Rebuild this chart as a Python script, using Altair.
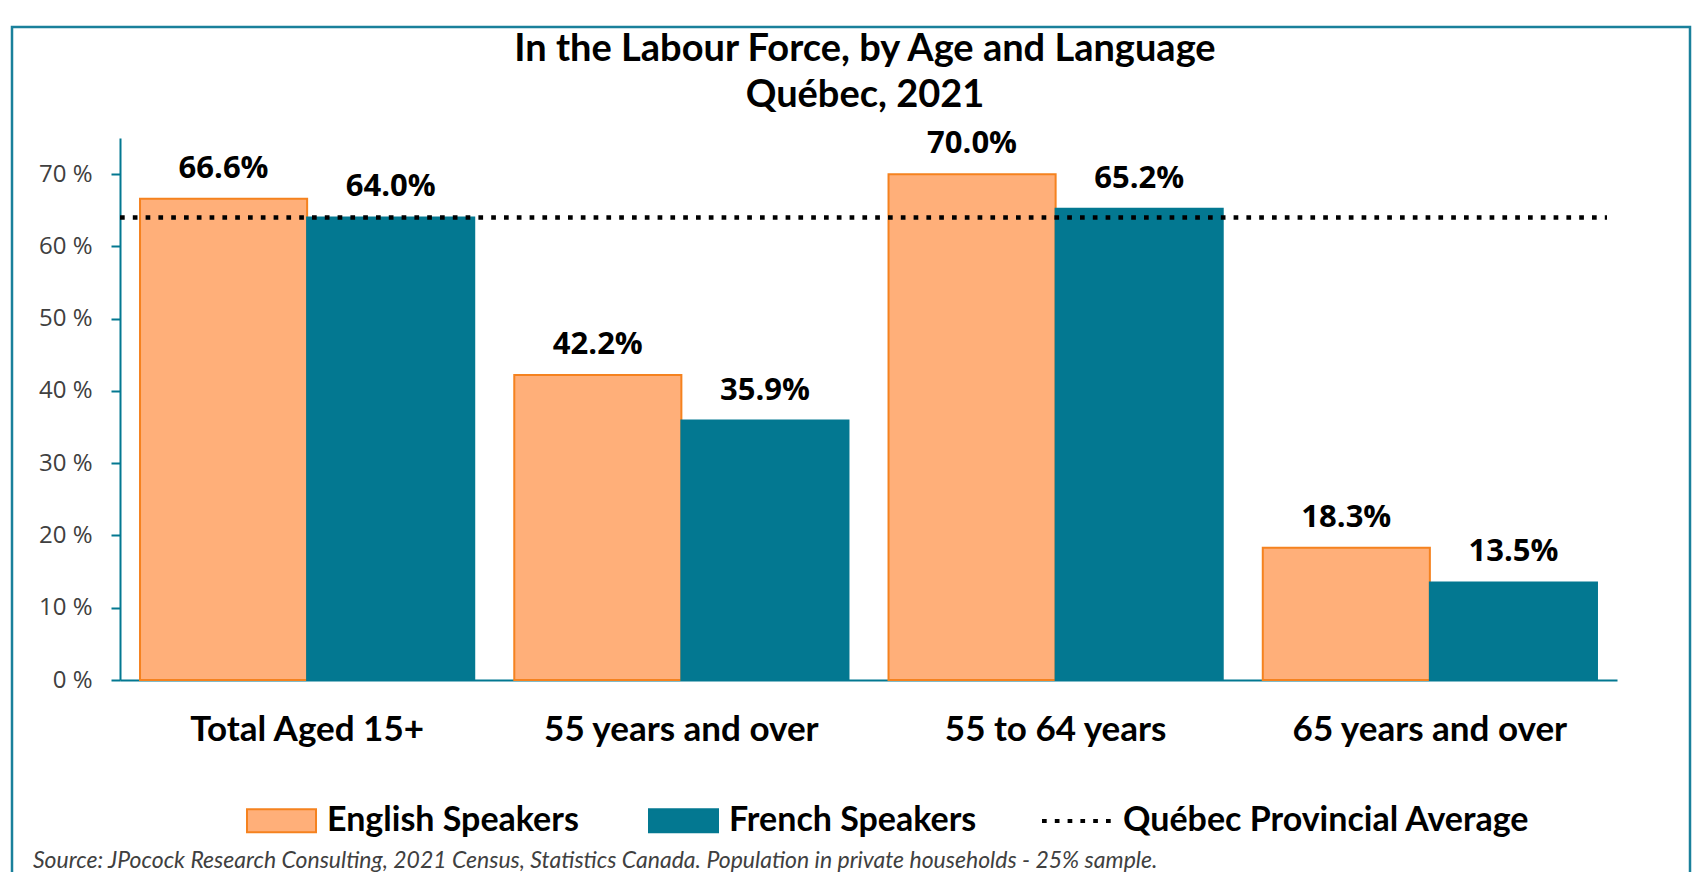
import altair as alt
import pandas as pd

categories = ["Total Aged 15+", "55 years and over", "55 to 64 years", "65 years and over"]
english = [66.6, 42.2, 70.0, 18.3]
french = [64.0, 35.9, 65.2, 13.5]
series = ["English Speakers", "French Speakers"]
provincial_average = 64.0
average_label = "Québec Provincial Average"
y_ticks = [0, 10, 20, 30, 40, 50, 60, 70]
title_lines = ["In the Labour Force, by Age and Language", "Québec, 2021"]
source_note = ("Source: JPocock Research Consulting, 2021 Census, Statistics Canada. "
               "Population in private households - 25% sample.")

rows = []
for c, e, f in zip(categories, english, french):
    rows.append({"category": c, "language": series[0], "value": e})
    rows.append({"category": c, "language": series[1], "value": f})
df = pd.DataFrame(rows)
df["label"] = df["value"].map(lambda v: f"{v:.1f}%")

rule_df = pd.DataFrame({"value": [provincial_average], "series": [average_label]})
one = pd.DataFrame({"k": [0]})

W, H = 1497, 542
TEAL = "#037891"
ORANGE_FILL = "#FFAF79"
ORANGE_LINE = "#F5821F"
FRAME = "#1A809B"

x_enc = alt.X(
    "category:N", sort=categories,
    scale=alt.Scale(paddingInner=0.107, paddingOuter=0.0535),
    axis=alt.Axis(title=None, labelAngle=0, ticks=False, domainColor=TEAL, domainWidth=2,
                  labelFont="Lato", labelFontSize=35, labelFontWeight="bold",
                  labelColor="black", labelPadding=32, labelLimit=500),
)
xo = alt.XOffset("language:N", sort=series, scale=alt.Scale(paddingInner=0, paddingOuter=0))
y_enc = alt.Y(
    "value:Q", scale=alt.Scale(domain=[0, 75], nice=False, zero=True),
    axis=alt.Axis(title=None, values=y_ticks, labelExpr="datum.value + ' %'", grid=False,
                  domainColor=TEAL, domainWidth=2, tickColor=TEAL, tickWidth=2, tickSize=9,
                  labelFont="Open Sans", labelFontSize=24, labelColor="#404040", labelPadding=19),
)

legend_common = dict(
    title=None, orient="none", legendX=126, legendY=647, direction="horizontal",
    symbolType="M-1,-0.333H1V0.333H-1Z", symbolSize=4761, symbolStrokeWidth=2,
    labelFont="Lato", labelFontSize=34, labelFontWeight="bold", labelColor="black",
    labelOffset=10, columnPadding=66, labelLimit=600, padding=0,
)

bars = alt.Chart(df).mark_bar(strokeWidth=2).encode(
    x=x_enc, xOffset=xo, y=y_enc,
    fill=alt.Fill("language:N", scale=alt.Scale(domain=series, range=[ORANGE_FILL, TEAL]),
                  legend=alt.Legend(**legend_common)),
    stroke=alt.Stroke("language:N", scale=alt.Scale(domain=series, range=[ORANGE_LINE, TEAL]),
                      legend=alt.Legend(**legend_common)),
)

rule = alt.Chart(rule_df).mark_rule(color="black", strokeWidth=4.7).encode(
    y=y_enc, x=alt.value(0), x2=alt.value(1487),
    strokeDash=alt.StrokeDash(
        "series:N", scale=alt.Scale(domain=[average_label], range=[[4.7, 8.1]]),
        legend=alt.Legend(title=None, orient="none", legendX=920, legendY=646,
                          symbolType="stroke", symbolSize=4900, symbolStrokeWidth=4,
                          symbolStrokeColor="black", labelFont="Lato", labelFontSize=34,
                          labelFontWeight="bold", labelColor="black", labelOffset=9,
                          labelLimit=600, padding=0),
    ),
)

labels = alt.Chart(df).mark_text(
    font="Open Sans", fontSize=31, fontWeight="bold", color="black",
    baseline="alphabetic", dy=-21,
).encode(x=x_enc, xOffset=xo, y=y_enc, text="label:N")

title = alt.Chart(one).mark_text(
    font="Lato", fontSize=38, fontWeight="bold", color="black", align="center",
    baseline="alphabetic", lineHeight=46,
).encode(x=alt.value(745), y=alt.value(-77), text=alt.value(title_lines))

source = alt.Chart(one).mark_text(
    font="Lato", fontSize=23, fontStyle="italic", color="#404040", align="left",
    baseline="alphabetic",
).encode(x=alt.value(-87), y=alt.value(730), text=alt.value(source_note))

frame = alt.Chart(one).mark_rect(fillOpacity=0, stroke=FRAME, strokeWidth=2.5).encode(
    x=alt.value(-108), x2=alt.value(1570), y=alt.value(-111), y2=alt.value(900)
)

chart = alt.layer(frame, bars, rule, labels, title, source).properties(
    width=W, height=H,
    autosize=alt.AutoSizeParams(type="none"),
    padding={"left": 112, "top": 130, "right": 75, "bottom": 192},
).configure_view(stroke="transparent")

chart.save("out.html", embed_options={"renderer": "svg", "actions": False})
